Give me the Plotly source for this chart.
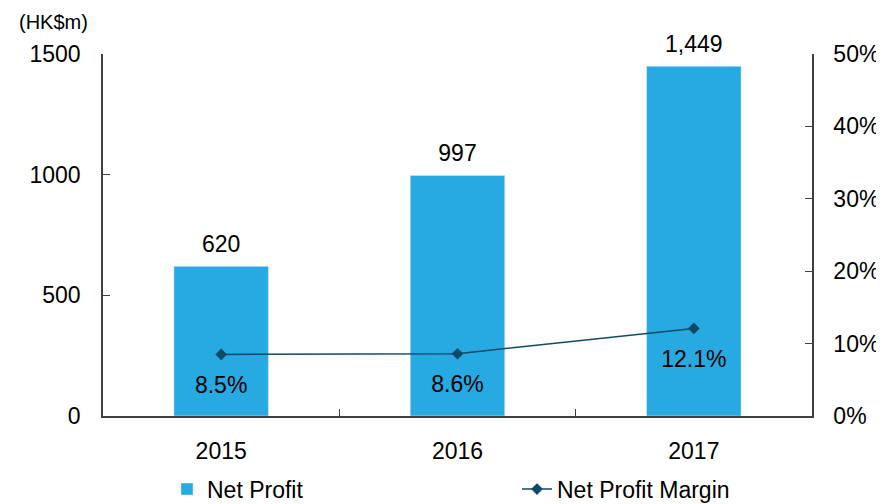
import plotly.graph_objects as go

years = ["2015", "2016", "2017"]
net_profit = [620, 997, 1449]
net_margin = [8.5, 8.6, 12.1]
left_ticks = [0, 500, 1000, 1500]
right_ticks = [0, 10, 20, 30, 40, 50]
right_labels = [f"{v}%" for v in right_ticks]
profit_labels = [f"{v:,}" for v in net_profit]
margin_labels = [f"{v:.1f}%" for v in net_margin]

BAR = "#27A9E1"
LINE = "#0E4A68"
FONT = "Liberation Sans, Arial, sans-serif"
FS = 23

fig = go.Figure()
fig.add_trace(go.Bar(
    x=years, y=net_profit, name="Net Profit", marker_color=BAR,
))
fig.add_trace(go.Scatter(
    x=years, y=net_margin, name="Net Profit Margin", yaxis="y2",
    mode="lines+markers", line=dict(color=LINE, width=1.5),
    marker=dict(symbol="diamond", size=9, color=LINE),
))
# value labels above bars
fig.add_trace(go.Scatter(
    x=years, y=net_profit, mode="markers+text", showlegend=False,
    hoverinfo="skip", marker=dict(size=12, opacity=0), cliponaxis=False,
    text=profit_labels, textposition="top center",
    textfont=dict(size=FS, color="#000"),
))
# margin labels below points
fig.add_trace(go.Scatter(
    x=years, y=net_margin, yaxis="y2", mode="markers+text", showlegend=False,
    hoverinfo="skip", marker=dict(size=32, opacity=0),
    text=margin_labels, textposition="bottom center",
    textfont=dict(size=FS, color="#000"),
))

fig.add_annotation(xref="paper", yref="paper", x=-0.018, y=1.088, xanchor="right",
                   yanchor="middle", text="(HK$m)", showarrow=False,
                   font=dict(size=20, color="#000"))

fig.update_layout(
    width=876, height=496,
    margin=dict(l=95, r=72, t=46, b=88),
    paper_bgcolor="white", plot_bgcolor="white",
    font=dict(family=FONT, size=FS, color="#000"),
    bargap=0.6, showlegend=True,
    legend=dict(orientation="h", xref="container", yref="container",
                x=0.1815, y=0.03, yanchor="middle", xanchor="left",
                entrywidth=305, entrywidthmode="pixels", font=dict(size=FS)),
    xaxis=dict(type="category", showline=True, linecolor="#404040", linewidth=1.5,
               ticks="inside", tickson="boundaries", ticklen=7, tickcolor="#404040",
               showgrid=False, tickfont=dict(size=FS), ticklabelstandoff=14,
               automargin=False),
    yaxis=dict(range=[0, 1500], tickvals=left_ticks, showline=True, linecolor="#404040",
               linewidth=1.5, ticks="inside", ticklen=7, tickcolor="#404040",
               showgrid=False, zeroline=False, tickfont=dict(size=FS),
               ticklabelstandoff=16, automargin=False),
    yaxis2=dict(range=[0, 50], tickvals=right_ticks, ticktext=right_labels, overlaying="y",
                side="right", showline=True, linecolor="#404040", linewidth=1.5,
                ticks="inside", ticklen=7, tickcolor="#404040", showgrid=False,
                zeroline=False, tickfont=dict(size=FS), ticklabelstandoff=15,
                automargin=False),
)

fig.write_html("out.html")
